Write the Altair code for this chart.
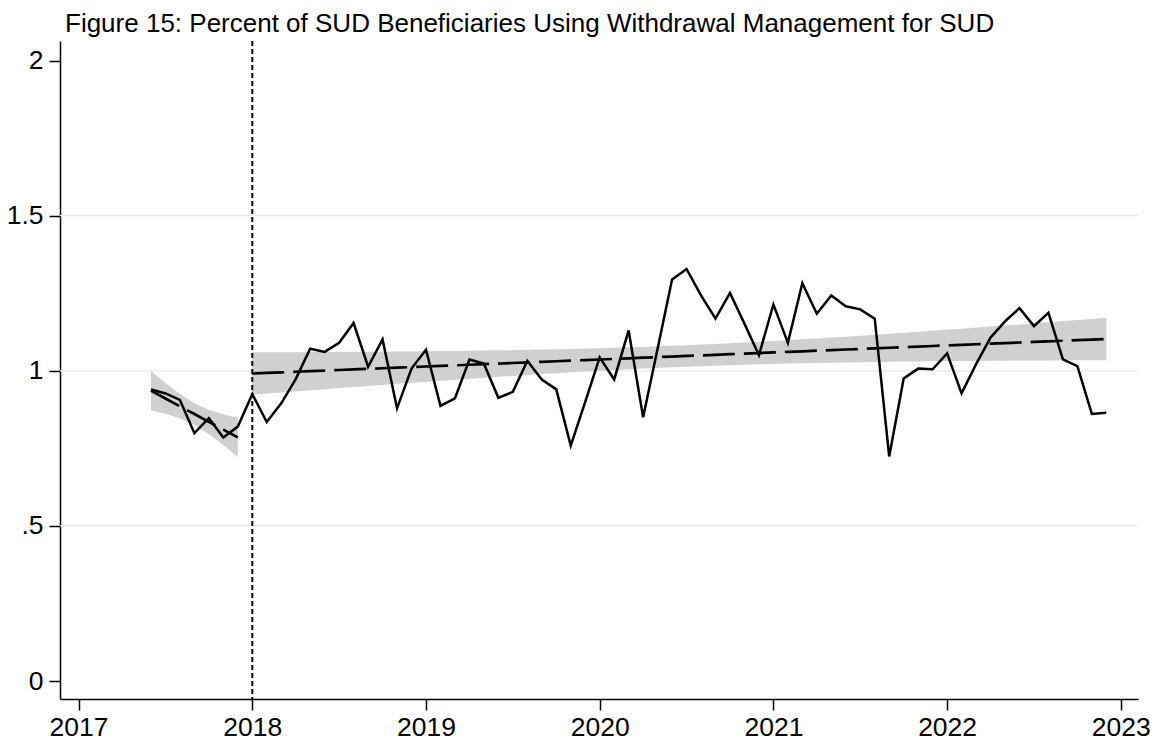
import altair as alt
import pandas as pd
import numpy as np

TITLE = "Figure 15: Percent of SUD Beneficiaries Using Withdrawal Management for SUD"

# Monthly series, starting 2017m6 (percent of SUD beneficiaries)
start_year, start_month = 2017, 6
policy_year = 2018
pct_2017 = [0.940, 0.927, 0.906, 0.799, 0.847, 0.785, 0.820]
pct_2018 = [0.925, 0.835, 0.895, 0.973, 1.071, 1.061, 1.090, 1.154, 1.013, 1.101, 0.879, 1.007]
pct_2019 = [1.068, 0.887, 0.911, 1.036, 1.023, 0.913, 0.932, 1.032, 0.972, 0.940, 0.759, 0.900]
pct_2020 = [1.043, 0.972, 1.130, 0.850, 1.071, 1.294, 1.328, 1.243, 1.168, 1.251, 1.152, 1.050]
pct_2021 = [1.214, 1.090, 1.282, 1.184, 1.243, 1.208, 1.198, 1.168, 0.724, 0.975, 1.007, 1.005]
pct_2022 = [1.056, 0.927, 1.021, 1.107, 1.159, 1.202, 1.144, 1.187, 1.037, 1.015, 0.861, 0.865]

x_ticks = [2017, 2018, 2019, 2020, 2021, 2022, 2023]
y_ticks = [0, 0.5, 1, 1.5, 2]
grid_values = [0.5, 1, 1.5]
t_crit = {5: 2.5706, 58: 2.0017}  # 95% t critical values by residual df

values = pct_2017 + pct_2018 + pct_2019 + pct_2020 + pct_2021 + pct_2022
t = [start_year + (start_month - 1 + i) / 12 for i in range(len(values))]
df = pd.DataFrame({"t": t, "pct": values})
df["period"] = np.where(df["t"] < policy_year - 1e-9, "pre", "post")


def lfitci(sub):
    x = sub["t"].to_numpy()
    y = sub["pct"].to_numpy()
    n = len(x)
    b, a = np.polyfit(x, y, 1)
    fit = a + b * x
    s = np.sqrt(np.sum((y - fit) ** 2) / (n - 2))
    sxx = np.sum((x - x.mean()) ** 2)
    se = s * np.sqrt(1 / n + (x - x.mean()) ** 2 / sxx)
    tc = t_crit[n - 2]
    return pd.DataFrame({"t": x, "fit": fit, "lo": fit - tc * se, "hi": fit + tc * se,
                         "period": sub["period"].iloc[0]})


fit_df = pd.concat([lfitci(g) for _, g in df.groupby("period", sort=False)], ignore_index=True)

FONT = "Liberation Sans"
LABEL_SIZE = 26.5
xscale = alt.Scale(domain=[2016.893, 2023.099], nice=False, zero=False)
yscale = alt.Scale(domain=[-0.058, 2.063], nice=False, zero=False)

x_axis = alt.Axis(values=x_ticks, format="d", title=None, grid=False, tickSize=11,
                  labelPadding=4, domainColor="black", tickColor="black", labelColor="black",
                  labelFontSize=LABEL_SIZE, labelFont=FONT, domainWidth=1.5, tickWidth=1.5,
                  labelFlush=False, labelOverlap=False)
y_axis = alt.Axis(values=y_ticks, title=None, grid=False, tickSize=11, labelPadding=6,
                  domainColor="black", tickColor="black", labelColor="black",
                  labelFontSize=LABEL_SIZE, labelFont=FONT, domainWidth=1.5, tickWidth=1.5,
                  labelFlush=False, labelOverlap=False,
                  labelExpr="datum.value == 0.5 ? '.5' : datum.value == 1.5 ? '1.5' : format(datum.value, 'd')")

grid = alt.Chart(pd.DataFrame({"v": grid_values})).mark_rule(
    color="#e9e9e9", strokeWidth=1.2
).encode(y=alt.Y("v:Q", scale=yscale, axis=y_axis))

band = alt.Chart(fit_df).mark_area(color="#d0d0d0", opacity=1).encode(
    x=alt.X("t:Q", scale=xscale, axis=x_axis),
    y=alt.Y("lo:Q", scale=yscale, axis=y_axis),
    y2="hi:Q",
    detail="period:N",
)

fit_line = alt.Chart(fit_df).mark_line(
    color="black", strokeWidth=2.7, strokeDash=[32, 9]
).encode(
    x=alt.X("t:Q", scale=xscale, axis=x_axis),
    y=alt.Y("fit:Q", scale=yscale, axis=y_axis),
    detail="period:N",
)

data_line = alt.Chart(df).mark_line(color="black", strokeWidth=2.5).encode(
    x=alt.X("t:Q", scale=xscale, axis=x_axis),
    y=alt.Y("pct:Q", scale=yscale, axis=y_axis),
)

vline = alt.Chart(pd.DataFrame({"t": [policy_year]})).mark_rule(
    color="black", strokeWidth=2, strokeDash=[5, 3]
).encode(x=alt.X("t:Q", scale=xscale, axis=x_axis))

title_mark = alt.Chart(pd.DataFrame({"title": [TITLE]})).mark_text(
    align="left", baseline="alphabetic", fontSize=26, font=FONT, color="black"
).encode(x=alt.value(5), y=alt.value(-9.5), text="title:N")

chart = alt.layer(grid, band, fit_line, data_line, vline, title_mark).properties(
    width=1078,
    height=658,
    background="white",
    autosize=alt.AutoSizeParams(type="none"),
    padding={"left": 52, "top": 33, "right": 12, "bottom": 42},
).configure_view(stroke=None)

chart.save("out.html", embed_options={"renderer": "svg", "actions": False})
